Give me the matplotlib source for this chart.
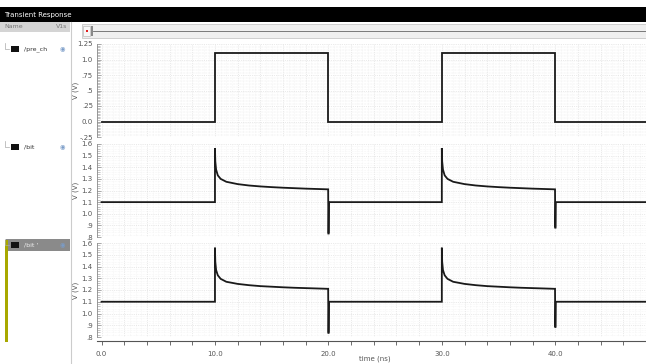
import numpy as np
import matplotlib
matplotlib.use('Agg')
import matplotlib.pyplot as plt
from matplotlib.patches import Rectangle
from matplotlib.ticker import MultipleLocator, FixedLocator

# ---- data ----
pre_t = [0, 10, 10, 20, 20, 30, 30, 40, 40, 48.5]
pre_v = [0, 0, 1.1, 1.1, 0, 0, 1.1, 1.1, 0, 0]

edges = [10, 30]            # rising edges of pre_ch (ns)
period_hi = 10              # pulse width (ns)
base_v = 1.1
# bit line shape after each rising edge (time after edge, volts)
decay_dt = [0.0, 0.03, 0.1, 0.25, 0.5, 1.0, 2.0, 3.0, 4.0, 5.0, 6.0, 7.0, 8.0, 9.0, 9.98]
bit_decay = [1.565, 1.45, 1.38, 1.33, 1.30, 1.275, 1.255, 1.243, 1.235,
             1.229, 1.224, 1.22, 1.216, 1.213, 1.21]
bitb_decay = [1.56, 1.44, 1.37, 1.325, 1.295, 1.27, 1.252, 1.241, 1.233,
              1.228, 1.223, 1.219, 1.216, 1.213, 1.21]
bit_dips = [0.83, 0.88]     # undershoot at falling edge
bitb_dips = [0.835, 0.885]

ticks_pre = [-0.25, 0, 0.25, 0.5, 0.75, 1.0, 1.25]
labels_pre = ['-.25', '0.0', '.25', '.5', '.75', '1.0', '1.25']
ticks_bit = [0.8, 0.9, 1.0, 1.1, 1.2, 1.3, 1.4, 1.5, 1.6]
labels_bit = ['.8', '.9', '1.0', '1.1', '1.2', '1.3', '1.4', '1.5', '1.6']
xticks = [0, 10, 20, 30, 40]
xlabels = ['0.0', '10.0', '20.0', '30.0', '40.0']
names = ['/pre_ch', '/bit', "/bit '"]


def build_bit(decay, dips):
    t, v = [0.0], [base_v]
    for e, d in zip(edges, dips):
        t.append(e); v.append(base_v)
        for dt, val in zip(decay_dt, decay):
            t.append(e + dt); v.append(val)
        f = e + period_hi
        t += [f, f + 0.02, f + 0.05]
        v += [d, d, base_v]
    t.append(48.5); v.append(base_v)
    return t, v


W, H = 646, 364
fig = plt.figure(figsize=(W / 100, H / 100), dpi=100)
fig.patch.set_facecolor('white')


def box(x, y, w, h, **kw):
    # pixel coords from top-left
    fig.patches.append(Rectangle((x / W, 1 - (y + h) / H), w / W, h / H,
                                 transform=fig.transFigure, **kw))


def ftext(x, y, s, **kw):
    fig.text(x / W, 1 - y / H, s, **kw)


# window chrome
box(0, 7, W, 15, facecolor='black', edgecolor='none')
ftext(4, 15, 'Transient Response', color='white', fontsize=5, va='center')
box(0, 22, 70, 10, facecolor='#d4d4d4', edgecolor='none')
ftext(4, 27, 'Name', color='#777777', fontsize=4.5, va='center')
ftext(56, 27, 'V1s', color='#777777', fontsize=4.5, va='center')
box(82, 24, W - 82, 14, facecolor='#efefef', edgecolor='#c8c8c8', linewidth=0.6)
box(83, 26, 7, 10, facecolor='#f8f8f8', edgecolor='#bbbbbb', linewidth=0.5)
box(85.5, 30, 2, 2, facecolor='#e02020', edgecolor='none')
box(91, 26, 2, 10, facecolor='#888888', edgecolor='none')
fig.add_artist(plt.Line2D([93 / W, 1], [1 - 31 / H] * 2, color='#666666', lw=0.6,
                          transform=fig.transFigure))
fig.add_artist(plt.Line2D([70.5 / W] * 2, [0, 1 - 22 / H], color='#cccccc', lw=0.8,
                          transform=fig.transFigure))

# left panel entries
entry_y = [49, 147, 245]
box(6, 239, 64, 12, facecolor='#8a8a8a', edgecolor='none')
box(5, 240, 2.5, 102, facecolor='#a8a800', edgecolor='none')
for i, (nm, yy) in enumerate(zip(names, entry_y)):
    box(11, yy - 3, 8, 6, facecolor='#111111', edgecolor='none')
    col = '#eeeeee' if i == 2 else '#333333'
    ftext(24, yy, nm, color=col, fontsize=4.5, va='center')
    ftext(62, yy, '\u25c9', color='#7a9cc8', fontsize=4.5, va='center', ha='center')
    fig.add_artist(plt.Line2D([5 / W, 5 / W, 9 / W],
                              [1 - (yy - 6) / H, 1 - yy / H, 1 - yy / H],
                              color='#aaaaaa', lw=0.5, transform=fig.transFigure))

# plot panels
ax_left = 97 / W
ax_w = 1 - ax_left
panels = [(44, 137), (144, 237), (243, 337)]
bit_t, bit_v = build_bit(bit_decay, bit_dips)
bitb_t, bitb_v = build_bit(bitb_decay, bitb_dips)
series = [(pre_t, pre_v), (bit_t, bit_v), (bitb_t, bitb_v)]

axes = []
for i, (top, bot) in enumerate(panels):
    ax = fig.add_axes([ax_left, 1 - bot / H, ax_w, (bot - top) / H])
    t, v = series[i]
    ax.plot(t, v, color='#1a1a1a', lw=1.3, solid_joinstyle='miter')
    ax.set_xlim(-0.4, 48.0)
    if i == 0:
        ax.set_ylim(-0.25, 1.25)
        ax.yaxis.set_major_locator(FixedLocator(ticks_pre))
        ax.set_yticklabels(labels_pre)
        ax.yaxis.set_minor_locator(MultipleLocator(0.025))
    else:
        ax.set_ylim(0.8, 1.6)
        ax.yaxis.set_major_locator(FixedLocator(ticks_bit))
        ax.set_yticklabels(labels_bit)
        ax.yaxis.set_minor_locator(MultipleLocator(0.02))
    ax.xaxis.set_major_locator(MultipleLocator(2))
    ax.xaxis.set_minor_locator(MultipleLocator(0.5))
    ax.grid(which='major', color='#d6d6d6', lw=0.5, ls=':')
    ax.grid(which='minor', color='#eeeeee', lw=0.4, ls=':')
    ax.set_axisbelow(True)
    for s in ['top', 'right', 'bottom']:
        ax.spines[s].set_visible(False)
    ax.spines['left'].set_color('#888888')
    ax.spines['left'].set_linewidth(0.6)
    ax.tick_params(axis='y', which='major', direction='in', length=3, width=0.5,
                   colors='#888888', labelcolor='#555555', labelsize=5, pad=3)
    ax.tick_params(axis='y', which='minor', direction='in', length=1.8, width=0.4,
                   colors='#999999')
    ax.tick_params(axis='x', which='both', length=0, labelbottom=False)
    ax.set_ylabel('V (V)', fontsize=5, color='#555555', labelpad=2)
    ax.yaxis.set_label_coords(-0.032, 0.5)
    axes.append(ax)

# bottom time axis
axb = fig.add_axes([ax_left, 1 - 341 / H, ax_w, 0.001])
axb.set_xlim(-0.4, 48.0)
axb.set_yticks([])
for s in ['top', 'right', 'left']:
    axb.spines[s].set_visible(False)
axb.patch.set_alpha(0)
axb.spines['bottom'].set_color('#555555')
axb.spines['bottom'].set_linewidth(0.8)
axb.xaxis.set_major_locator(FixedLocator(xticks))
axb.set_xticklabels(xlabels)
axb.xaxis.set_minor_locator(MultipleLocator(2))
axb.tick_params(axis='x', which='major', length=3, width=0.6, colors='#555555',
                labelsize=5, pad=4)
axb.tick_params(axis='x', which='minor', length=3, width=0.6, colors='#555555')
ftext(375, 359, 'time (ns)', color='#555555', fontsize=5, ha='center', va='center')

fig.savefig('out.png', dpi=100)
